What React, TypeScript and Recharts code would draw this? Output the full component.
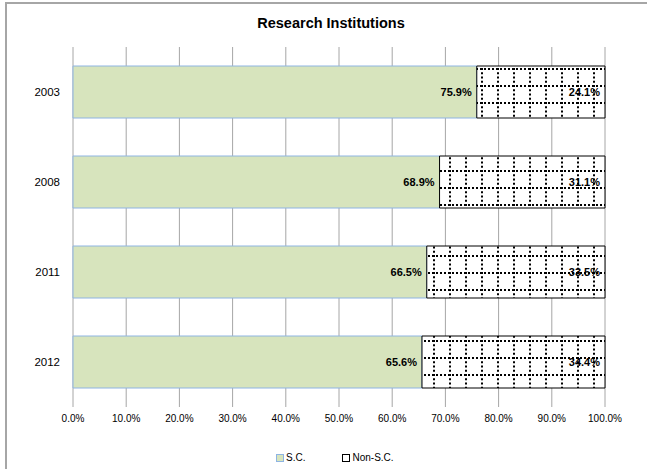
import React from "react";
import { BarChart, Bar, XAxis, YAxis, CartesianGrid, LabelList } from "recharts";

const years = ["2003", "2008", "2011", "2012"];
const scShare = [0.759, 0.689, 0.665, 0.656];
const nonScShare = [0.241, 0.311, 0.335, 0.344];
const xTicks = [0, 0.1, 0.2, 0.3, 0.4, 0.5, 0.6, 0.7, 0.8, 0.9, 1];

const FONT = "'Liberation Sans', Arial, sans-serif";
const SC_FILL = "#d7e4bd";
const SC_STROKE = "#8eb4e3";

const data = years.map((y, i) => ({ year: y, sc: scShare[i], nonSc: nonScShare[i] }));

const pct = (v: number) => `${(v * 100).toFixed(1)}%`;

export default function App() {
  return (
    <div
      style={{
        position: "absolute",
        left: 0,
        top: 0,
        width: 647,
        height: 469,
        overflow: "hidden",
        background: "#fff",
        fontFamily: FONT,
      }}
    >
      {/* chart frame, runs off the right / bottom edge */}
      <div
        style={{
          position: "absolute",
          left: 5,
          top: 2,
          width: 700,
          height: 520,
          borderLeft: "2px solid #a6a6a6",
          borderTop: "2px solid #a6a6a6",
        }}
      />
      <div
        style={{
          position: "absolute",
          left: 0,
          width: 662,
          top: 15,
          textAlign: "center",
          fontWeight: "bold",
          fontSize: 14.5,
          color: "#000",
        }}
      >
        Research Institutions
      </div>
      <div style={{ position: "absolute", left: 0, top: 0 }}>
        <BarChart
          width={647}
          height={469}
          data={data}
          layout="vertical"
          margin={{ top: 47, right: 42, bottom: 32, left: 0 }}
          barSize={52}
        >
          <defs>
            <pattern id="dots" patternUnits="userSpaceOnUse" width="16" height="17">
              <rect x="0" y="0" width="16" height="17" fill="#fff" />
              <line x1="0" y1="1" x2="16" y2="1" stroke="#000" strokeWidth="2" strokeDasharray="2 2" />
              <line x1="2" y1="0" x2="2" y2="17" stroke="#000" strokeWidth="2" strokeDasharray="2 2.25" />
            </pattern>
          </defs>
          <CartesianGrid horizontal={false} stroke="#a6a6a6" />
          <XAxis
            type="number"
            domain={[0, 1]}
            ticks={xTicks}
            tickFormatter={pct}
            axisLine={false}
            tickLine={false}
            height={30}
            tick={{ fontSize: 10, fill: "#000", fontFamily: FONT }}
          />
          <YAxis
            type="category"
            dataKey="year"
            width={73}
            axisLine={false}
            tickLine={false}
            tickMargin={7}
            tick={{ fontSize: 11.5, fill: "#000", fontFamily: FONT }}
          />
          <Bar dataKey="sc" stackId="a" fill={SC_FILL} stroke={SC_STROKE} strokeWidth={1} isAnimationActive={false}>
            <LabelList
              dataKey="sc"
              position="insideRight"
              formatter={(v: any) => pct(Number(v))}
              style={{ fontSize: 11, fontWeight: "bold", fill: "#000", fontFamily: FONT }}
            />
          </Bar>
          <Bar dataKey="nonSc" stackId="a" fill="url(#dots)" stroke="#000" strokeWidth={1} isAnimationActive={false}>
            <LabelList
              dataKey="nonSc"
              position="insideRight"
              formatter={(v: any) => pct(Number(v))}
              style={{ fontSize: 11, fontWeight: "bold", fill: "#000", fontFamily: FONT }}
            />
          </Bar>
        </BarChart>
      </div>
      {/* legend */}
      <div style={{ position: "absolute", left: 276, top: 452, fontSize: 10, color: "#000", display: "flex", alignItems: "center" }}>
        <span style={{ display: "inline-block", width: 6, height: 6, background: SC_FILL, border: `1px solid ${SC_STROKE}`, marginRight: 2 }} />
        <span>S.C.</span>
        <span style={{ display: "inline-block", width: 6, height: 6, background: "#fff", border: "1px solid #000", marginLeft: 37, marginRight: 2 }} />
        <span>Non-S.C.</span>
      </div>
    </div>
  );
}
